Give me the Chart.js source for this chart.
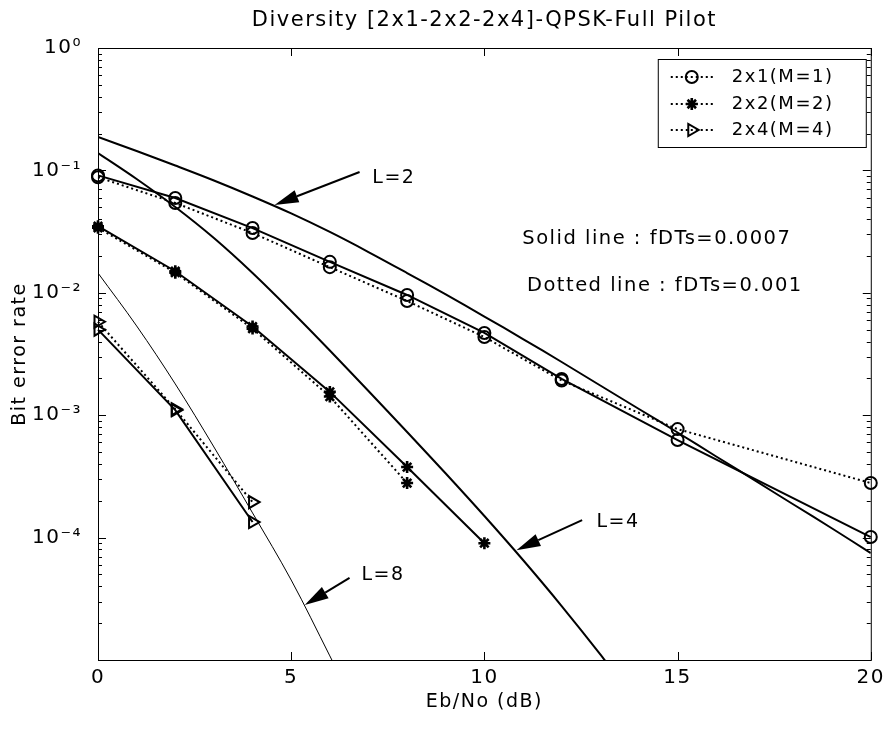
<!DOCTYPE html>
<html>
<head>
<meta charset="utf-8">
<script src="https://cdn.jsdelivr.net/npm/chart.js@4/dist/chart.umd.min.js"></script>
<style>
  html, body { margin: 0; padding: 0; background: #fff; }
  #wrap { width: 891px; height: 733px; }
</style>
</head>
<body>
<div id="wrap"><canvas id="c" width="891" height="733"></canvas></div>
<script>
// ---------------- DATA ----------------
const chartTitle = 'Diversity [2x1-2x2-2x4]-QPSK-Full Pilot';
const xAxisTitle = 'Eb/No (dB)';
const yAxisTitle = 'Bit error rate';
const xTickValues = [0, 5, 10, 15, 20];
const yTickValues = [1e-5, 1e-4, 1e-3, 1e-2, 1e-1, 1];
const yTickLabels = ['', '10\u207B\u2074', '10\u207B\u00B3', '10\u207B\u00B2', '10\u207B\u00B9', '10\u2070'];

const legendLabels = ['2x1(M=1)', '2x2(M=2)', '2x4(M=4)'];

// simulated, 2x1 (M=1)
const x21 = [0, 2, 4, 6, 8, 10, 12, 15, 20];
const ber21Solid  = [0.091, 0.0595, 0.0338, 0.0179, 0.0096, 0.0047, 0.00198, 0.000627, 0.000101];
const ber21Dotted = [0.088, 0.0542, 0.0308, 0.0162, 0.00857, 0.00435, 0.00192, 0.00077, 0.000279];
// simulated, 2x2 (M=2)
const x22Solid  = [0, 2, 4, 6, 8, 10];
const ber22Solid  = [0.0350, 0.0150, 0.0053, 0.00155, 0.000377, 0.000090];
const x22Dotted = [0, 2, 4, 6, 8];
const ber22Dotted = [0.0340, 0.0146, 0.0051, 0.00142, 0.000279];
// simulated, 2x4 (M=4)
const x24 = [0, 2, 4];
const ber24Solid  = [0.0050, 0.00110, 0.000134];
const ber24Dotted = [0.0058, 0.00112, 0.000195];

// theoretical diversity curves
const xL2 = [0,1,2,3,4,5,6,7,8,9,10,11,12,13,14,15,16,17,18,19,20];
const berL2 = [0.1875,0.1440,0.1096,0.0827,0.0612,0.0445,0.0314,0.02154,0.01451,0.00969,0.00640,0.00419,0.00272,0.001748,0.001124,0.000722,0.000460,0.000293,0.0001864,0.0001187,0.0000748];
const xL4 = [0,1,2,3,4,5,6,7,8,9,10,11,12,13,14];
const berL4 = [0.1387,0.0851,0.0502,0.0280,0.01451,0.00710,0.003378,0.001576,0.000729,0.000334,0.0001501,0.0000656,0.0000276,0.0000111,0.00000425];
const xL8 = [0,1,2,3,4,5,6,6.5];
const berL8 = [0.01451,0.00536,0.00180,0.000550,0.000159,0.0000450,0.0000108,0.00000518];

// annotation texts
const noteSolid = 'Solid line : fDTs=0.0007';
const noteDotted = 'Dotted line : fDTs=0.001';
const curveLabels = ['L=2', 'L=4', 'L=8'];

// ---------------- PRESENTATION ----------------
const FONT = 'DejaVu Sans';
Chart.defaults.font.family = FONT;
Chart.defaults.color = '#000';

function pts(xs, ys) { return xs.map((v, i) => ({ x: v, y: ys[i] })); }

// annotation placements (data coordinates)
const arrowSpecs = [
  { text: curveLabels[0], tip: [4.57, 0.0522], tail: [6.77, 0.097], at: [7.1, 0.0867] },
  { text: curveLabels[1], tip: [10.83, 7.9e-5], tail: [12.53, 1.39e-4], at: [12.9, 1.34e-4] },
  { text: curveLabels[2], tip: [5.35, 2.81e-5], tail: [6.51, 4.68e-5], at: [6.82, 4.95e-5] }
];
const notes = [
  { text: noteSolid, at: [10.98, 0.0275] },
  { text: noteDotted, at: [11.1, 0.0113] }
];

const marker = {
  circle: { pointStyle: 'circle', radius: 6, rotation: 0, width: 2 },
  star: { pointStyle: 'star', radius: 6, rotation: 0, width: 2.6 },
  tri: { pointStyle: 'triangle', radius: 7, rotation: 90, width: 2 }
};

function simSet(data, m, dotted) {
  return {
    data: data,
    borderColor: '#000',
    backgroundColor: 'rgba(0,0,0,0)',
    borderWidth: 2,
    borderDash: dotted ? [2, 3] : [],
    pointStyle: m.pointStyle,
    pointRadius: m.radius,
    pointRotation: m.rotation,
    pointBorderColor: '#000',
    pointBackgroundColor: 'rgba(0,0,0,0)',
    pointBorderWidth: m.width,
    tension: 0,
    clip: false
  };
}
function theorySet(data, w) {
  return {
    data: data,
    borderColor: '#000',
    borderWidth: w,
    pointRadius: 0,
    tension: 0.35,
    fill: false
  };
}

const spacingPlugin = {
  id: 'spacing',
  beforeLayout(chart) { chart.ctx.letterSpacing = '1.5px'; },
  beforeDraw(chart) { chart.ctx.letterSpacing = '1.5px'; }
};

function drawArrow(ctx, x1, y1, x2, y2) {
  const ang = Math.atan2(y2 - y1, x2 - x1);
  const len = 24, half = 6.5;
  const bx = x2 - len * Math.cos(ang), by = y2 - len * Math.sin(ang);
  ctx.beginPath();
  ctx.moveTo(x1, y1); ctx.lineTo(bx, by);
  ctx.lineWidth = 2; ctx.stroke();
  ctx.beginPath();
  ctx.moveTo(x2, y2);
  ctx.lineTo(bx + half * Math.sin(ang), by - half * Math.cos(ang));
  ctx.lineTo(bx - half * Math.sin(ang), by + half * Math.cos(ang));
  ctx.closePath(); ctx.fill();
}

const decorPlugin = {
  id: 'decor',
  afterDatasetsDraw(chart) {
    const { ctx, chartArea: a, scales: { x, y } } = chart;
    ctx.save();
    ctx.strokeStyle = '#000'; ctx.fillStyle = '#000'; ctx.lineWidth = 1;
    // axes box
    ctx.strokeRect(a.left + 0.5, a.top + 0.5, a.right - a.left, a.bottom - a.top);
    // x ticks (inward, bottom and top)
    ctx.beginPath();
    xTickValues.forEach(v => {
      const px = Math.round(x.getPixelForValue(v)) + 0.5;
      ctx.moveTo(px, a.bottom); ctx.lineTo(px, a.bottom - 8);
      ctx.moveTo(px, a.top); ctx.lineTo(px, a.top + 8);
    });
    // y ticks (log major + minor, left and right)
    for (let k = -5; k <= 0; k++) {
      for (let m = 1; m <= 9; m++) {
        if (k === 0 && m > 1) break;
        const v = m * Math.pow(10, k);
        const py = Math.round(y.getPixelForValue(v)) + 0.5;
        const len = m === 1 ? 8 : 4;
        ctx.moveTo(a.left, py); ctx.lineTo(a.left + len, py);
        ctx.moveTo(a.right, py); ctx.lineTo(a.right - len, py);
      }
    }
    ctx.stroke();

    // annotations
    ctx.letterSpacing = '1.5px';
    ctx.font = '19px "' + FONT + '"';
    ctx.textBaseline = 'middle'; ctx.textAlign = 'left';
    arrowSpecs.forEach(s => {
      const tx = x.getPixelForValue(s.tip[0]), ty = y.getPixelForValue(s.tip[1]);
      const lx = x.getPixelForValue(s.tail[0]), ly = y.getPixelForValue(s.tail[1]);
      drawArrow(ctx, lx, ly, tx, ty);
      ctx.fillText(s.text, x.getPixelForValue(s.at[0]), y.getPixelForValue(s.at[1]));
    });
    ctx.font = '19.5px "' + FONT + '"';
    notes.forEach(n => {
      ctx.fillText(n.text, x.getPixelForValue(n.at[0]), y.getPixelForValue(n.at[1]));
    });

    // legend
    const bx = a.right - 213, by = a.top + 11, bw = 208, bh = 88;
    ctx.fillStyle = '#fff';
    ctx.fillRect(bx, by, bw, bh);
    ctx.fillStyle = '#000';
    ctx.lineWidth = 1;
    ctx.strokeRect(bx + 0.5, by + 0.5, bw, bh);
    const rows = [by + 18, by + 45, by + 71];
    const marks = [marker.circle, marker.star, marker.tri];
    ctx.font = '18px "' + FONT + '"';
    rows.forEach((ry, i) => {
      ctx.save();
      ctx.setLineDash([2, 3]); ctx.lineWidth = 2;
      ctx.beginPath(); ctx.moveTo(bx + 13, ry); ctx.lineTo(bx + 58, ry); ctx.stroke();
      ctx.restore();
      ctx.save();
      ctx.lineWidth = marks[i].width; ctx.strokeStyle = '#000'; ctx.fillStyle = 'rgba(0,0,0,0)';
      Chart.helpers.drawPoint(ctx, { pointStyle: marks[i].pointStyle, radius: marks[i].radius, rotation: marks[i].rotation, borderWidth: marks[i].width }, bx + 34, ry);
      ctx.restore();
      ctx.fillStyle = '#000';
      ctx.fillText(legendLabels[i], bx + 74, ry);
    });
    ctx.restore();
  }
};

new Chart(document.getElementById('c'), {
  type: 'line',
  data: {
    datasets: [
      theorySet(pts(xL2, berL2), 2),
      theorySet(pts(xL4, berL4), 2),
      theorySet(pts(xL8, berL8), 1),
      simSet(pts(x21, ber21Solid), marker.circle, false),
      simSet(pts(x21, ber21Dotted), marker.circle, true),
      simSet(pts(x22Solid, ber22Solid), marker.star, false),
      simSet(pts(x22Dotted, ber22Dotted), marker.star, true),
      simSet(pts(x24, ber24Solid), marker.tri, false),
      simSet(pts(x24, ber24Dotted), marker.tri, true)
    ]
  },
  options: {
    responsive: false,
    animation: false,
    devicePixelRatio: 1,
    layout: { padding: { left: 0, right: 19, top: 0, bottom: 0 } },
    plugins: {
      legend: { display: false },
      tooltip: { enabled: false },
      title: {
        display: true,
        fullSize: false,
        text: chartTitle,
        color: '#000',
        font: { size: 21, weight: 'normal', lineHeight: 1.2 },
        padding: { top: 8, bottom: 14.8 }
      }
    },
    scales: {
      x: {
        type: 'linear', min: 0, max: 20,
        grid: { display: false, drawTicks: false },
        border: { display: false },
        afterBuildTicks: s => { s.ticks = xTickValues.map(v => ({ value: v })); },
        afterFit: s => { s.height = 73; },
        ticks: { font: { size: 20 }, padding: 6, maxRotation: 0, callback: v => String(v) },
        title: { display: true, text: xAxisTitle, font: { size: 19 }, padding: { top: 0, bottom: 20 } }
      },
      y: {
        type: 'logarithmic', min: 1e-5, max: 1,
        grid: { display: false, drawTicks: false },
        border: { display: false },
        afterBuildTicks: s => { s.ticks = yTickValues.map(v => ({ value: v })); },
        afterFit: s => { s.width = 98; },
        ticks: {
          font: { size: 20 }, padding: 16,
          callback: function (v) {
            const i = yTickValues.findIndex(t => Math.abs(Math.log10(t) - Math.log10(v)) < 1e-6);
            return i >= 0 ? yTickLabels[i] : '';
          }
        },
        title: { display: true, text: yAxisTitle, font: { size: 19 }, padding: { top: 9, bottom: 0 } }
      }
    }
  },
  plugins: [spacingPlugin, decorPlugin]
});
</script>
</body>
</html>
